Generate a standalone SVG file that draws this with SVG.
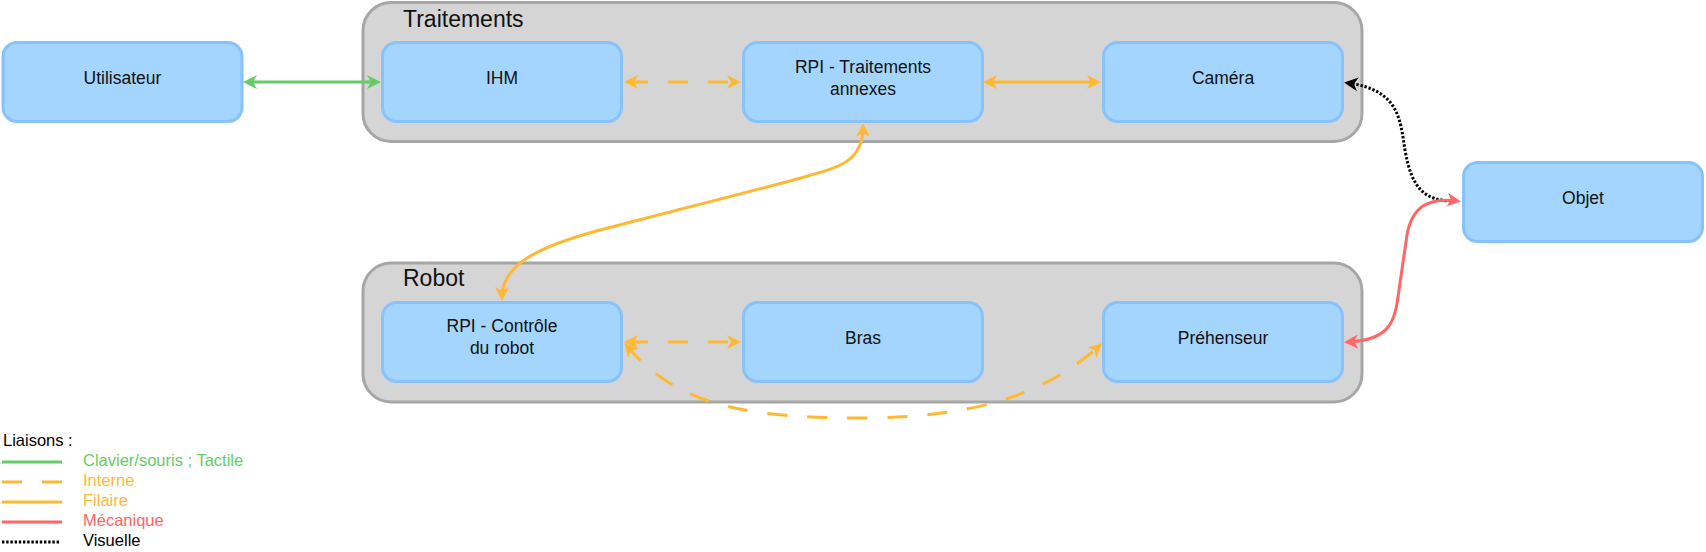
<svg xmlns="http://www.w3.org/2000/svg" width="1706" height="552" viewBox="0 0 1706 552">
<style>
.grp{fill:#d5d5d5;stroke:#a6a6a6;stroke-width:3}
.node{fill:#a3d5fe;stroke:#87c2fd;stroke-width:3}
.t{font-family:"Liberation Sans",Arial,sans-serif;font-size:17.5px;fill:#111;text-anchor:middle}
.gt{font-family:"Liberation Sans",Arial,sans-serif;font-size:23px;fill:#111}
.lt{font-family:"Liberation Sans",Arial,sans-serif;font-size:16.5px}
.c{fill:none;stroke-width:3}
.g{stroke:#66cc66}
.o{stroke:#ffb833}
.r{stroke:#ff6666}
.k{stroke:#000}
.d{stroke-dasharray:20 20}
.dot{stroke-dasharray:2.4 1.8}
</style>
<defs>
<marker id="ag" viewBox="0 0 14 14" markerWidth="14" markerHeight="14" refX="10" refY="7" orient="auto-start-reverse" markerUnits="userSpaceOnUse"><path d="M0,0 L14,7 L0,14 L4,7 Z" fill="#66cc66"/></marker>
<marker id="ao" viewBox="0 0 14 14" markerWidth="14" markerHeight="14" refX="10" refY="7" orient="auto-start-reverse" markerUnits="userSpaceOnUse"><path d="M0,0 L14,7 L0,14 L4,7 Z" fill="#ffb833"/></marker>
<marker id="ar" viewBox="0 0 14 14" markerWidth="14" markerHeight="14" refX="10" refY="7" orient="auto-start-reverse" markerUnits="userSpaceOnUse"><path d="M0,0 L14,7 L0,14 L4,7 Z" fill="#ff6666"/></marker>
<marker id="ak" viewBox="0 0 14 14" markerWidth="14" markerHeight="14" refX="10" refY="7" orient="auto-start-reverse" markerUnits="userSpaceOnUse"><path d="M0,0 L14,7 L0,14 L4,7 Z" fill="#000"/></marker>
</defs>
<g id="traitements">
<rect class="grp" x="363" y="2.5" width="999" height="139" rx="28"/>
<text class="gt" x="403" y="26.5">Traitements</text>
</g>
<g id="robot">
<rect class="grp" x="363" y="263" width="999" height="139" rx="28"/>
<text class="gt" x="403" y="286">Robot</text>
</g>
<g id="utilisateur"><rect class="node" x="3" y="42.5" width="239" height="79" rx="14"/><text class="t" x="122.5" y="84">Utilisateur</text></g>
<g id="ihm"><rect class="node" x="382.5" y="42.5" width="239" height="79" rx="14"/><text class="t" x="502" y="84">IHM</text></g>
<g id="rpi-traitements"><rect class="node" x="743.5" y="42.5" width="239" height="79" rx="14"/><text class="t" x="863" y="72.5">RPI - Traitements</text><text class="t" x="863" y="94.5">annexes</text></g>
<g id="camera"><rect class="node" x="1103.5" y="42.5" width="239" height="79" rx="14"/><text class="t" x="1223" y="84">Caméra</text></g>
<g id="objet"><rect class="node" x="1463.5" y="162.5" width="239" height="79" rx="14"/><text class="t" x="1583" y="204">Objet</text></g>
<g id="rpi-controle"><rect class="node" x="382.5" y="302.5" width="239" height="79" rx="14"/><text class="t" x="502" y="332">RPI - Contrôle</text><text class="t" x="502" y="354">du robot</text></g>
<g id="bras"><rect class="node" x="743.5" y="302.5" width="239" height="79" rx="14"/><text class="t" x="863" y="343.5">Bras</text></g>
<g id="prehenseur"><rect class="node" x="1103.5" y="302.5" width="239" height="79" rx="14"/><text class="t" x="1223" y="343.5">Préhenseur</text></g>
<g id="connectors">
<path class="c g" d="M247,82 L377,82" marker-start="url(#ag)" marker-end="url(#ag)"/>
<path class="c o d" d="M628,82 L737,82" marker-start="url(#ao)" marker-end="url(#ao)"/>
<path class="c o" d="M987,82 L1097,82" marker-start="url(#ao)" marker-end="url(#ao)"/>
<path class="c k dot" d="M1348,83 C1400,90 1400,120 1405,150 C1412,190 1425,200 1452,201" marker-start="url(#ak)"/>
<path class="c r" d="M1348,342 C1392,340 1395,320 1399,290 L1407,235 C1412,207 1428,197 1457,201" marker-start="url(#ar)" marker-end="url(#ar)"/>
<path class="c o" d="M863,127 C863,165 835,168 790,181 L600,230 C545,245 502,262 502,297" marker-start="url(#ao)" marker-end="url(#ao)"/>
<path class="c o d" d="M628,342 L737,342" marker-start="url(#ao)" marker-end="url(#ao)"/>
<path class="c o d" d="M627,346 C680,410 760,418 862,418 C960,418 1040,400 1099,346" marker-start="url(#ao)" marker-end="url(#ao)"/>
</g>
<g id="legend">
<text class="lt" x="3" y="446" fill="#000">Liaisons :</text>
<line class="c g" x1="2" y1="462" x2="62" y2="462"/>
<text class="lt" x="83" y="466" fill="#66cc66">Clavier/souris ; Tactile</text>
<line class="c o d" x1="2" y1="482" x2="62" y2="482"/>
<text class="lt" x="83" y="486" fill="#ffb833">Interne</text>
<line class="c o" x1="2" y1="502" x2="62" y2="502"/>
<text class="lt" x="83" y="506" fill="#ffb833">Filaire</text>
<line class="c r" x1="2" y1="522" x2="62" y2="522"/>
<text class="lt" x="83" y="526" fill="#ff6666">Mécanique</text>
<line class="c k dot" x1="2" y1="542" x2="60" y2="542"/>
<text class="lt" x="83" y="546" fill="#000">Visuelle</text>
</g>
</svg>
